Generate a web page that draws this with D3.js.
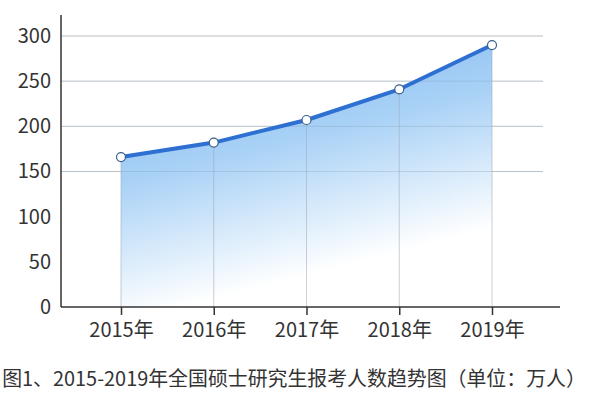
<!DOCTYPE html>
<html>
<head>
<meta charset="utf-8">
<script src="https://cdn.jsdelivr.net/npm/d3@7"></script>
<style>
  body { margin: 0; background: #fff; }
  svg { display: block; font-family: "Noto Sans CJK SC", "Noto Sans", sans-serif; }
</style>
</head>
<body>
<svg width="592" height="405"></svg>
<script>
// данные графика
const years = ["2015年", "2016年", "2017年", "2018年", "2019年"];
const applicants = [166, 182, 207, 241, 290];
const yTicks = [0, 50, 100, 150, 200, 250, 300];
const gridTicks = [150, 200, 250, 300];
const caption = "图1、2015-2019年全国硕士研究生报考人数趋势图（单位：万人）";

const data = years.map((y, i) => ({year: y, value: applicants[i]}));

const svg = d3.select("svg");

const area_attr = {
    left: 61,
    right: 560,
    top: 15,
    bottom: 307
};

const scX = d3.scalePoint().domain(years).range([121, 492]);
const scY = d3.scaleLinear().domain([0, 300]).range([area_attr.bottom, 36]);

// градиент заливки
const defs = svg.append("defs");
const grad = defs.append("linearGradient")
    .attr("id", "fillGrad")
    .attr("gradientUnits", "userSpaceOnUse")
    .attr("x1", 170).attr("y1", 60)
    .attr("x2", 230).attr("y2", 295);
grad.append("stop").attr("offset", "0%").attr("stop-color", "#82b9ef");
grad.append("stop").attr("offset", "45%").attr("stop-color", "#aad2f6");
grad.append("stop").attr("offset", "100%").attr("stop-color", "#ffffff");

// горизонтальная сетка
svg.append("g")
    .selectAll("line")
    .data(gridTicks)
    .enter()
    .append("line")
    .attr("x1", area_attr.left)
    .attr("x2", 543)
    .attr("y1", d => scY(d))
    .attr("y2", d => scY(d))
    .attr("stroke", "#d6d6d6")
    .attr("stroke-width", 1);

// область
const area = d3.area()
    .x(d => scX(d.year))
    .y0(scY(0))
    .y1(d => scY(d.value));

svg.append("path")
    .datum(data)
    .attr("d", area)
    .attr("fill", "url(#fillGrad)");

// сетка поверх заливки (слабая)
svg.append("g")
    .selectAll("line")
    .data(gridTicks)
    .enter()
    .append("line")
    .attr("x1", area_attr.left)
    .attr("x2", 543)
    .attr("y1", d => scY(d))
    .attr("y2", d => scY(d))
    .attr("stroke", "#7f97b0")
    .attr("stroke-opacity", 0.3)
    .attr("stroke-width", 1);

// вертикальные линии
svg.append("g")
    .selectAll("line")
    .data(data)
    .enter()
    .append("line")
    .attr("x1", d => scX(d.year))
    .attr("x2", d => scX(d.year))
    .attr("y1", scY(0))
    .attr("y2", d => scY(d.value))
    .attr("stroke", "#9aaabb")
    .attr("stroke-opacity", 0.55)
    .attr("stroke-width", 1);

// линия
const line = d3.line()
    .x(d => scX(d.year))
    .y(d => scY(d.value));

svg.append("path")
    .datum(data)
    .attr("d", line)
    .attr("fill", "none")
    .attr("stroke", "#2e6fd2")
    .attr("stroke-width", 4)
    .attr("stroke-linecap", "round")
    .attr("stroke-linejoin", "round");

// точки
svg.append("g")
    .selectAll("circle")
    .data(data)
    .enter()
    .append("circle")
    .attr("cx", d => scX(d.year))
    .attr("cy", d => scY(d.value))
    .attr("r", 4.5)
    .attr("fill", "#fff")
    .attr("stroke", "#3a5f8a")
    .attr("stroke-width", 1.2);

// ось Y
const axisY = d3.axisLeft(scY).tickValues(yTicks).tickSize(0).tickPadding(10);
const gY = svg.append("g")
    .attr("transform", `translate(${area_attr.left}, 0)`)
    .call(axisY);
gY.select(".domain").remove();
gY.selectAll("text")
    .attr("font-size", 20)
    .attr("fill", "#333")
    .attr("font-family", "Noto Sans CJK SC");

svg.append("line")
    .attr("x1", area_attr.left).attr("x2", area_attr.left)
    .attr("y1", area_attr.top).attr("y2", area_attr.bottom)
    .attr("stroke", "#333").attr("stroke-width", 1.5);

// ось X
const axisX = d3.axisBottom(scX).tickSize(8).tickPadding(8);
const gX = svg.append("g")
    .attr("transform", `translate(0, ${area_attr.bottom})`)
    .call(axisX);
gX.select(".domain").remove();
gX.selectAll(".tick line").attr("stroke", "#333").attr("stroke-width", 1.5);
gX.selectAll("text")
    .attr("font-size", 20)
    .attr("fill", "#333")
    .attr("font-family", "Noto Sans CJK SC");

svg.append("line")
    .attr("x1", area_attr.left).attr("x2", area_attr.right)
    .attr("y1", area_attr.bottom).attr("y2", area_attr.bottom)
    .attr("stroke", "#333").attr("stroke-width", 1.5);

// подпись
svg.append("text")
    .attr("x", 294)
    .attr("y", 386)
    .attr("text-anchor", "middle")
    .attr("font-size", 19.9)
    .attr("fill", "#333")
    .text(caption);
</script>
</body>
</html>
